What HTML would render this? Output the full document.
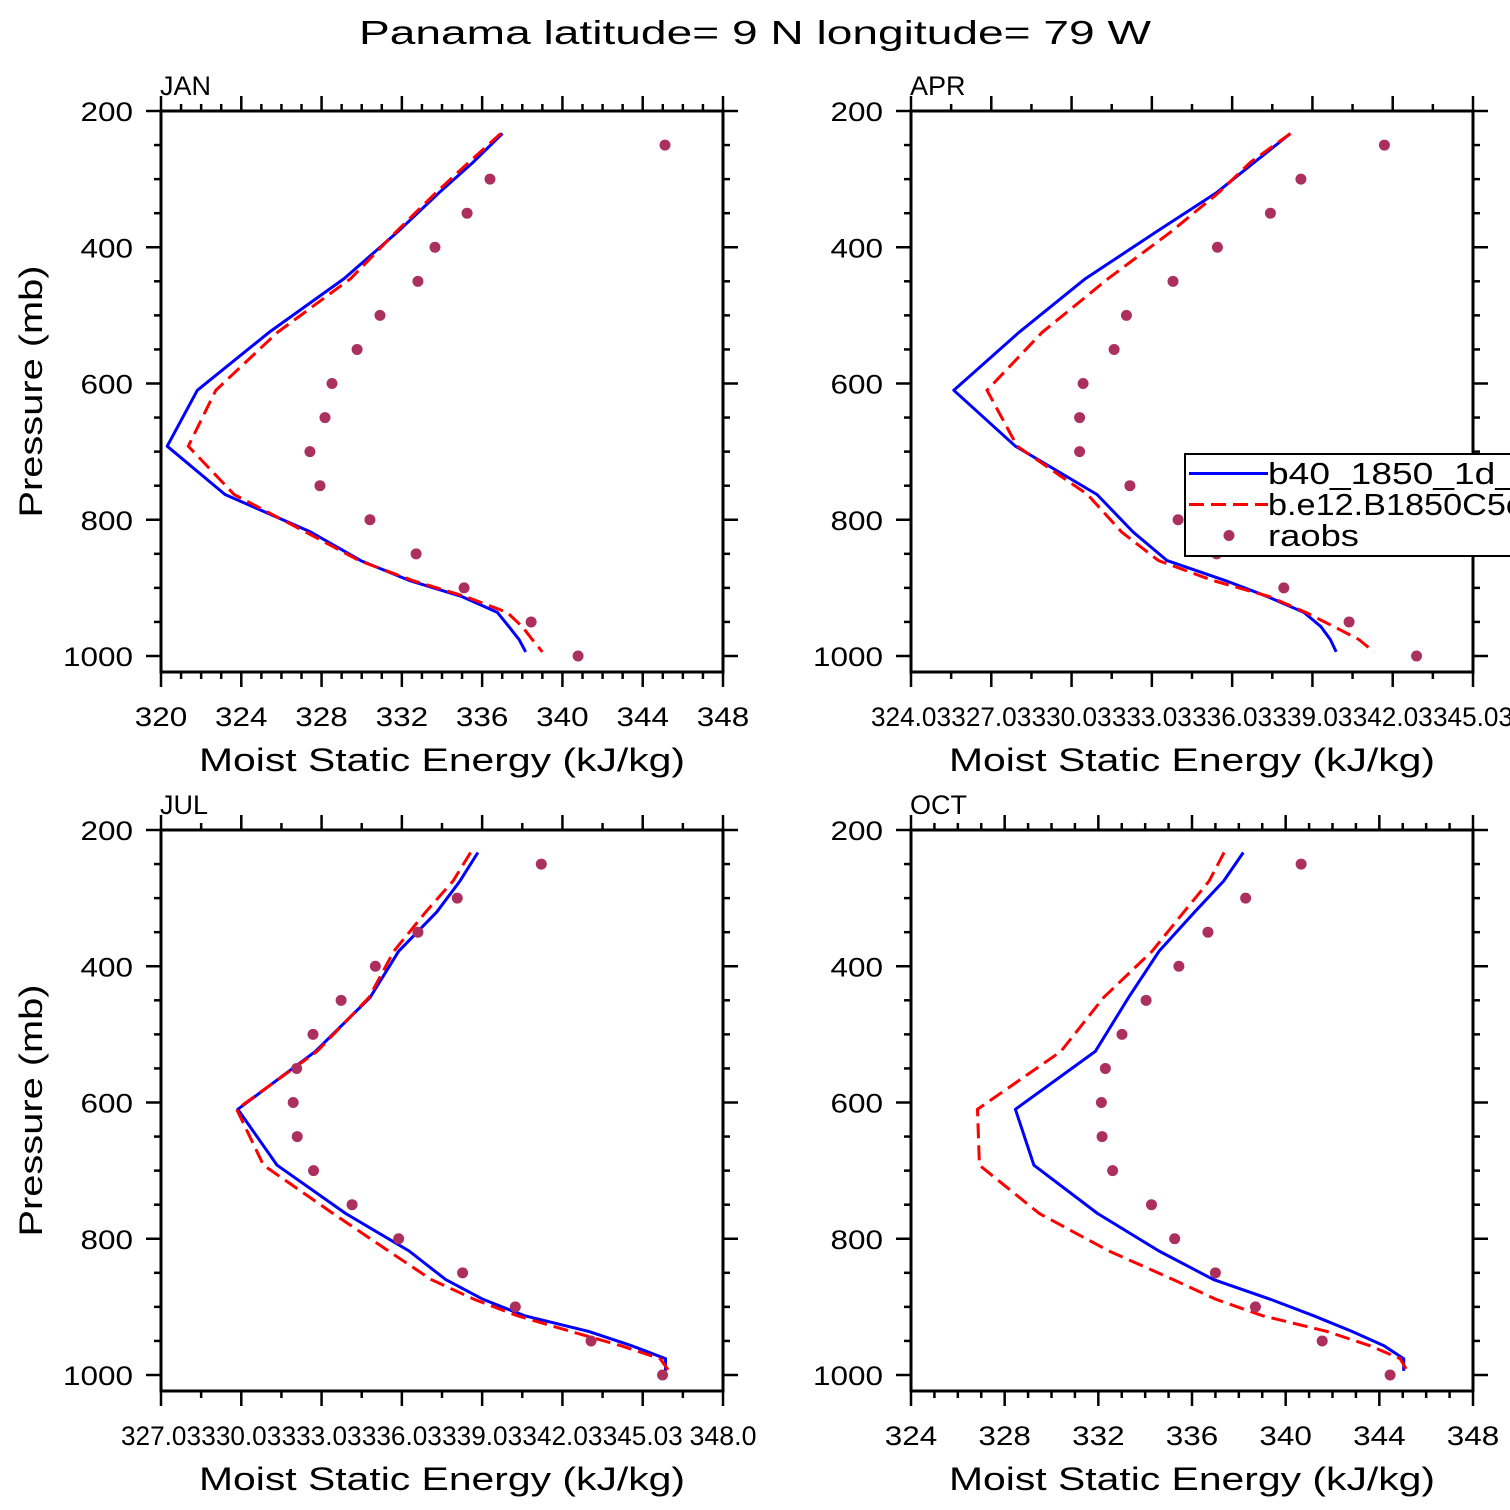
<!DOCTYPE html>
<html><head><meta charset="utf-8"><style>
html,body{margin:0;padding:0;background:#fff;}
svg{display:block;font-family:"Liberation Sans",sans-serif;}
</style></head><body>
<svg id="chart" width="1510" height="1510" viewBox="0 0 1510 1510" xmlns="http://www.w3.org/2000/svg">
<rect width="1510" height="1510" fill="#fff"/>
<text x="755" y="44" font-size="33" text-anchor="middle" textLength="792" lengthAdjust="spacingAndGlyphs">Panama  latitude= 9 N longitude= 79 W</text>
</svg>
<script>
// Model pressure levels (mb)
const levels = [233,275,320,378,446,525,610,692,763,818,860,889,913,936,957,976,994];
// Raob pressure levels (mb)
const raobLevels = [250,300,350,400,450,500,550,600,650,700,750,800,850,900,950,1000];

const janBlue = [337.01,335.56,333.85,331.77,329.12,325.38,321.81,320.31,323.19,327.46,329.95,332.36,335.01,336.76,337.34,337.84,338.17];
const janRed  = [336.93,335.35,333.69,331.69,329.45,325.8,322.73,321.36,323.64,327.21,329.87,332.52,335.18,337.25,338.0,338.5,339.0];
const janRaob = [345.11,336.39,335.25,333.65,332.8,330.91,329.77,328.52,328.17,327.42,327.92,330.41,332.71,335.1,338.44,340.78];

const aprBlue = [338.21,336.87,335.44,333.17,330.55,328.06,325.63,327.93,330.98,332.33,333.6,335.76,337.36,338.71,339.35,339.7,339.92];
const aprRed  = [338.21,336.72,335.52,333.72,331.4,328.93,326.87,328.0,330.63,331.9,333.28,335.3,337.43,338.78,339.84,340.77,341.33];
const aprRaob = [341.72,338.6,337.46,335.48,333.82,332.08,331.62,330.46,330.33,330.33,332.21,334.01,335.45,337.96,340.4,342.92];

const julBlue = [338.87,338.2,337.34,335.91,334.84,332.8,329.9,331.37,333.93,336.3,337.67,339.07,340.61,343.01,344.61,345.88,345.88];
const julRed  = [338.6,337.94,336.93,335.73,334.8,332.86,329.86,330.86,333.46,335.53,337.13,338.74,340.34,342.34,344.21,345.68,346.01];
const julRaob = [341.24,338.1,336.63,335.04,333.76,332.71,332.1,331.97,332.12,332.73,334.17,335.91,338.3,340.27,343.1,345.77];

const octBlue = [338.19,337.35,336.12,334.59,333.29,331.87,328.46,329.25,331.97,334.59,336.92,339.36,341.19,342.83,344.2,345.04,345.04];
const octRed  = [337.37,336.73,335.66,334.29,332.22,330.4,326.84,326.92,329.48,332.45,335.2,337.03,339.01,341.76,343.59,344.89,345.19];
const octRaob = [340.66,338.29,336.68,335.44,334.04,333.01,332.3,332.13,332.16,332.61,334.27,335.26,337.0,338.71,341.56,344.46];

const janTicks = ["320","324","328","332","336","340","344","348"];
const aprTicks = ["324.03","327.03","330.03","333.03","336.03","339.03","342.03","345.03"];
const julTicks = ["327.03","330.03","333.03","336.03","339.03","342.03","345.03","348.0"];
const octTicks = ["324","328","332","336","340","344","348"];
const pTicks = [200,400,600,800,1000];

const NS="http://www.w3.org/2000/svg";
const svg=document.getElementById('chart');
function mk(tag,attrs,parent){const e=document.createElementNS(NS,tag);for(const k in attrs)e.setAttribute(k,attrs[k]);(parent||svg).appendChild(e);return e;}

const W=562,H=561,PMIN=200,PMAX=200+561/0.68125;
const panels=[
 {name:'jan',label:'JAN',x0:161,y0:111,xmin:320,xmax:348,major:4,minor:1,tickVals:[320,324,328,332,336,340,344,348],ticks:janTicks,blue:janBlue,red:janRed,raob:janRaob,tw:null},
 {name:'apr',label:'APR',x0:911,y0:111,xmin:324.03,xmax:345.03,major:3,minor:1.5,tickVals:[324.03,327.03,330.03,333.03,336.03,339.03,342.03,345.03],ticks:aprTicks,blue:aprBlue,red:aprRed,raob:aprRaob,tw:80,legend:true},
 {name:'jul',label:'JUL',x0:161,y0:830,xmin:327.03,xmax:348.03,major:3,minor:1.5,tickVals:[327.03,330.03,333.03,336.03,339.03,342.03,345.03,348.03],ticks:julTicks,blue:julBlue,red:julRed,raob:julRaob,tw:80},
 {name:'oct',label:'OCT',x0:911,y0:830,xmin:324,xmax:348,major:4,minor:1,tickVals:[324,328,332,336,340,344,348],ticks:octTicks,blue:octBlue,red:octRed,raob:octRaob,tw:null}
];

panels.forEach(pn=>{
 const g=mk('g',{});
 
 
 const xs=v=>pn.x0+(v-pn.xmin)/(pn.xmax-pn.xmin)*W;
 const ys=p=>pn.y0+(p-PMIN)/(PMAX-PMIN)*H;
 const x1=pn.x0,x2=pn.x0+W,y1=pn.y0,y2=pn.y0+H;
 const tg=mk('g',{stroke:'#000','stroke-width':2.5},g);
 
 
 for(let p=200;p<=1020;p+=50){
   const y=ys(p);const L=(p%200===0)?15:7;
   mk('line',{x1:x1-L,y1:y,x2:x1,y2:y},tg);
   mk('line',{x1:x2,y1:y,x2:x2+L,y2:y},tg);
 }
 const nMin=Math.round((pn.xmax-pn.xmin)/pn.minor);
 const ratio=Math.round(pn.major/pn.minor);
 for(let i=0;i<=nMin;i++){
   const x=xs(pn.xmin+i*pn.minor);const L=(i%ratio===0)?15:7;
   mk('line',{x1:x,y1:y2,x2:x,y2:y2+L},tg);
   mk('line',{x1:x,y1:y1-L,x2:x,y2:y1},tg);
 }
 const frame=mk('rect',{x:x1,y:y1,width:W,height:H,fill:'none',stroke:'#000','stroke-width':3},g);
 
 
 pTicks.forEach(p=>{
   const s=String(p);
   const t=mk('text',{x:x1-28,y:ys(p)+10,'font-size':27,'text-anchor':'end',textLength:s.length*17.5,lengthAdjust:'spacingAndGlyphs'},g);
   
   
   t.textContent=s;
 });
 pn.ticks.forEach((s,i)=>{
   const a={x:xs(pn.tickVals[i]),y:y2+54,'font-size':27,'text-anchor':'middle'};
   if(pn.tw){a.textLength=(s.length===6?80:67);a.lengthAdjust='spacingAndGlyphs';}
   else{a.textLength=s.length*17.5;a.lengthAdjust='spacingAndGlyphs';}
   const t=mk('text',a,g);
   
   
   t.textContent=s;
 });
 const xt=mk('text',{x:x1+W/2,y:y2+99,'font-size':32,'text-anchor':'middle',textLength:486,lengthAdjust:'spacingAndGlyphs'},g);
 
 
 xt.textContent='Moist Static Energy (kJ/kg)';
 if(pn.x0<500){
   const yt=mk('text',{x:0,y:0,'font-size':32,'text-anchor':'middle',textLength:252,lengthAdjust:'spacingAndGlyphs',transform:`translate(42,${y1+H/2}) rotate(-90)`},g);
   
   
   yt.textContent='Pressure (mb)';
 }
 const ml=mk('text',{x:x1-1,y:y1-16,'font-size':27},g);
 
 
 ml.textContent=pn.label;
 const pts=arr=>arr.map((v,i)=>xs(v).toFixed(1)+','+ys(levels[i]).toFixed(1)).join(' ');
 const b=mk('polyline',{points:pts(pn.blue),fill:'none',stroke:'#0000ff','stroke-width':3,'stroke-linejoin':'round'},g);
 
 
 const r=mk('polyline',{points:pts(pn.red),fill:'none',stroke:'#ff0000','stroke-width':3,'stroke-dasharray':'15,7'},g);
 
 
 pn.raob.forEach((v,i)=>{
   const c=mk('circle',{cx:xs(v),cy:ys(raobLevels[i]),r:5.5,fill:'#ac305e'},g);
   
   
 });
 if(pn.legend){
   const lg=mk('g',{},svg);
   
   
   mk('rect',{x:1185,y:454,width:340,height:102,fill:'#fff',stroke:'#000','stroke-width':2},lg);
   mk('line',{x1:1189,y1:473.5,x2:1268,y2:473.5,stroke:'#0000ff','stroke-width':3},lg);
   mk('line',{x1:1189,y1:504.5,x2:1268,y2:504.5,stroke:'#ff0000','stroke-width':3,'stroke-dasharray':'15,7'},lg);
   mk('circle',{cx:1229,cy:535.5,r:5.5,fill:'#ac305e'},lg);
   const names=['b40_1850_1d_','b.e12.B1850C5c','raobs'];
   const lens=[248,255,91];
   names.forEach((s,i)=>{
     const t=mk('text',{x:1268,y:484+i*31,'font-size':31,textLength:lens[i],lengthAdjust:'spacingAndGlyphs'},lg);
     
     
     t.textContent=s;
   });
 }
});
</script>
</body></html>
